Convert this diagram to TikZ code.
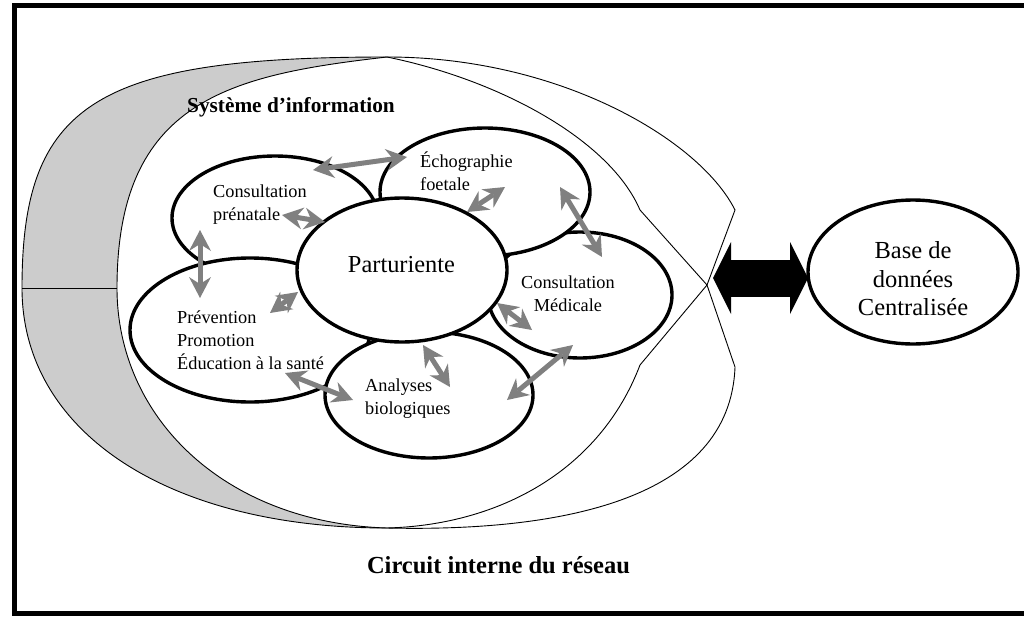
\documentclass[tikz,border=0pt]{standalone}
\usepackage{fontspec}
\setmainfont{Liberation Serif}
\usetikzlibrary{shapes.geometric,arrows.meta,calc}

\definecolor{crescent}{gray}{0.8}
\definecolor{linkgray}{gray}{0.5}

\tikzset{
  bubble/.style={ellipse, draw, line width=3.4pt, fill=white, inner sep=0pt, outer sep=0pt},
  txt/.style={font=\fontsize{18.3}{23}\selectfont, inner sep=0pt},
  outline/.style={line width=0.9pt},
  link/.style={draw=linkgray, line width=5pt,
    {Stealth[length=21pt,width=22pt,inset=7pt,line width'=0pt]}-{Stealth[length=21pt,width=22pt,inset=7pt,line width'=0pt]}},
  bigarrow/.style={line width=37pt,
    {Triangle[length=18pt,width=72pt,line width'=0pt]}-{Triangle[length=18pt,width=72pt,line width'=0pt]}}
}

\begin{document}
\begin{tikzpicture}[x=1pt,y=-1pt]
  \useasboundingbox (0,0) rectangle (1024,618);
  % frame
  \draw[line width=5pt] (14.5,5.5) rectangle (1040,613);

  % outer shapes
  \coordinate (tt) at (387,57);
  \coordinate (bb) at (387,528);
  \coordinate (gate) at (707,285);
  \fill[crescent] (tt) .. controls (95,57) and (22,104) .. (22,288)
    .. controls (22,432) and (168,528) .. (bb)
    .. controls (225,523) and (117,418) .. (117,288)
    .. controls (117,100) and (230,75) .. (tt) -- cycle;
  \draw[outline] (bb) .. controls (168,528) and (22,432) .. (22,288)
    .. controls (22,104) and (95,57) .. (tt)
    .. controls (560,57) and (700,140) .. (735,210) -- (gate) -- (735,367)
    .. controls (730,500) and (560,532) .. (bb);
  \draw[outline] (tt) .. controls (230,75) and (117,100) .. (117,288)
    .. controls (117,418) and (225,523) .. (bb)
    .. controls (500,525) and (600,470) .. (640,365) -- (gate) -- (640,210)
    .. controls (610,140) and (500,80) .. (tt);
  \draw[outline] (22,288) -- (117,288);

  % bubbles
  \node[bubble, minimum width=206pt, minimum height=124pt] (cp) at (275,218) {};
  \node[bubble, minimum width=240pt, minimum height=144pt] (pp) at (250,330) {};
  \node[bubble, minimum width=184pt, minimum height=126pt] (cm) at (580,295) {};
  \node[bubble, minimum width=208pt, minimum height=126pt] (ab) at (429,395) {};
  \node[bubble, minimum width=210pt, minimum height=128pt] (ef) at (485,192) {};
  \node[bubble, minimum width=210pt, minimum height=144pt] (pa) at (402,270) {};
  \node[bubble, minimum width=210pt, minimum height=144pt] (db) at (913,272) {};

  % texts
  \node[txt, align=left, anchor=west] (cp-t) at (213,205) {Consultation\\prénatale};
  \node[txt, align=left, anchor=west] (ef-t) at (420,171) {Échographie\\foetale};
  \node[txt, align=center] (cm-t) at (568,294) {Consultation\\Médicale};
  \node[txt, align=left, anchor=west] (pp-t) at (177,340) {Prévention\\Promotion\\Éducation à la santé};
  \node[txt, align=left, anchor=west] (ab-t) at (365,398.5) {Analyses\\biologiques};
  \node[font=\fontsize{24.4}{28}\selectfont, inner sep=0pt] (pa-t) at (401.5,265) {Parturiente};
  \node[font=\fontsize{24.5}{28.5}\selectfont, align=center, inner sep=0pt] (db-t) at (913,279) {Base de\\données\\Centralisée};
  \node[font=\bfseries\fontsize{21.3}{25}\selectfont, inner sep=0pt] (si) at (291,107) {Système d’information};
  \node[font=\bfseries\fontsize{24.5}{28}\selectfont, inner sep=0pt] (cir) at (498.5,565.3) {Circuit interne du réseau};

  % links
  \draw[link] ($(cp)+(38,-48)$) -- ($(ef)+(-78,-35)$);
  \draw[link] ($(pa)+(-77,-48)$) -- ($(cp)+(7,-3)$);
  \draw[link] ($(cp)+(-75,12)$) -- ($(pp)+(-50,-32)$);
  \draw[link] ($(pa)+(65,-58)$) -- ($(ef)+(20,-5)$);
  \draw[link] ($(ef)+(75,-5)$) -- ($(cm)+(22,-38)$);
  \draw[link] ($(pa)+(95,33)$) -- ($(cm)+(-48,35)$);
  \draw[link] ($(cm)+(-7,50)$) -- ($(ab)+(78,5)$);
  \draw[link] ($(pa)+(21,75)$) -- ($(ab)+(21,-8)$);
  \draw[link] ($(pp)+(35,43)$) -- ($(ab)+(-76,5)$);
  \draw[link] ($(pa)+(-104,22)$) -- ($(pp)+(20,-17)$);

  % link to the database
  \coordinate (dock) at (713,278);
  \draw[bigarrow] (dock) -- (dock -| db.west);
\end{tikzpicture}
\end{document}
